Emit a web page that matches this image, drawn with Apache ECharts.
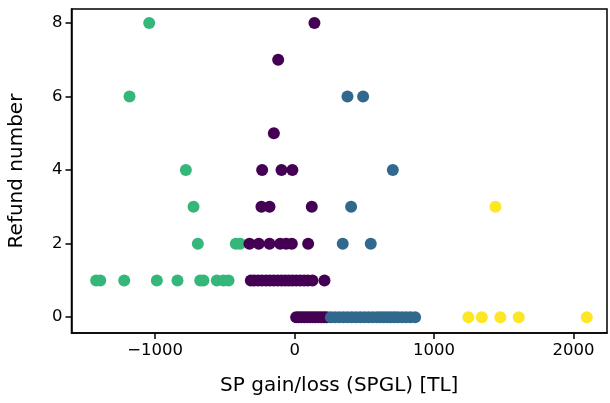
<!DOCTYPE html>
<html>
<head>
<meta charset="utf-8">
<script src="https://cdn.jsdelivr.net/npm/echarts@6/dist/echarts.min.js"></script>
<style>html,body{margin:0;padding:0;background:#fff}#c{width:610px;height:403px}</style>
</head>
<body>
<div id="c"></div>
<script>
// Cluster data (SP gain/loss, refund number)
const greenX = [-1043, -1184, -780, -725, -694, -422, -391, -1423, -1394, -1222, -988, -840, -677, -654, -558, -510, -474];
const greenY = [8, 6, 4, 3, 2, 2, 2, 1, 1, 1, 1, 1, 1, 1, 1, 1, 1];

const purpleX = [142, -118, -149, -233, -94, -16, -238, -180, 123,
  -324, -257, -180, -104, -61, -20, 97,
  -314, -290, -262, -235, -205, -178, -150, -122, -95, -68, -42, -15, 12, 40, 68, 96, 128, 214,
  11, 30, 50, 70, 90, 110, 130, 150, 170, 190, 210, 230];
const purpleY = [8, 7, 5, 4, 4, 4, 3, 3, 3,
  2, 2, 2, 2, 2, 2, 2,
  1, 1, 1, 1, 1, 1, 1, 1, 1, 1, 1, 1, 1, 1, 1, 1, 1, 1,
  0, 0, 0, 0, 0, 0, 0, 0, 0, 0, 0, 0];

const blueX = [379, 491, 704, 405, 345, 546,
  260, 290, 320, 350, 380, 410, 440, 470, 500, 530, 560, 590, 615, 640, 665, 690, 715, 740, 770, 800, 830, 864];
const blueY = [6, 6, 4, 3, 2, 2,
  0, 0, 0, 0, 0, 0, 0, 0, 0, 0, 0, 0, 0, 0, 0, 0, 0, 0, 0, 0, 0, 0];

const yellowX = [1440, 1246, 1342, 1475, 1607, 2095];
const yellowY = [3, 0, 0, 0, 0, 0];

const xTicks = [-1000, 0, 1000, 2000];
const yTicks = [0, 2, 4, 6, 8];

function pairs(xs, ys) { return xs.map((x, i) => [x, ys[i]]); }

const font = 'DejaVu Sans';
const chart = echarts.init(document.getElementById('c'), null, {renderer: 'canvas'});
function sc(name, xs, ys, color) {
  return {
    type: 'scatter', name: name, data: pairs(xs, ys), symbolSize: 12,
    itemStyle: {color: color, opacity: 1}, animation: false, silent: true
  };
}
chart.setOption({
  animation: false,
  grid: {left: 71.5, right: 3, top: 9, bottom: 70, show: true, borderColor: '#000', borderWidth: 1.5,
    backgroundColor: '#fff', containLabel: false, outerBoundsMode: 'none'},
  xAxis: {
    type: 'value', min: -1600, max: 2240,
    name: 'SP gain/loss (SPGL) [TL]', nameLocation: 'middle', nameGap: 43,
    nameTextStyle: {fontFamily: font, fontSize: 20, color: '#000'},
    axisLine: {show: true, onZero: false, lineStyle: {color: '#000', width: 1.5}},
    axisTick: {show: true, customValues: xTicks, length: 6, lineStyle: {color: '#000', width: 1.5}},
    axisLabel: {customValues: xTicks, fontFamily: font, fontSize: 16.5, color: '#000', margin: 9,
      formatter: v => (v < 0 ? '\u2212' + Math.abs(v) : String(v))},
    splitLine: {show: false}
  },
  yAxis: {
    type: 'value', min: -0.43, max: 8.38,
    name: 'Refund number', nameLocation: 'middle', nameGap: 45, nameRotate: 90,
    nameTextStyle: {fontFamily: font, fontSize: 20, color: '#000'},
    axisLine: {show: true, onZero: false, lineStyle: {color: '#000', width: 1.5}},
    axisTick: {show: true, customValues: yTicks, length: 6, lineStyle: {color: '#000', width: 1.5}},
    axisLabel: {customValues: yTicks, fontFamily: font, fontSize: 16.5, color: '#000', margin: 9},
    splitLine: {show: false}
  },
  series: [
    sc('green', greenX, greenY, '#35b779'),
    sc('purple', purpleX, purpleY, '#440154'),
    sc('blue', blueX, blueY, '#31688e'),
    sc('yellow', yellowX, yellowY, '#fde725')
  ]
});
</script>
</body>
</html>
